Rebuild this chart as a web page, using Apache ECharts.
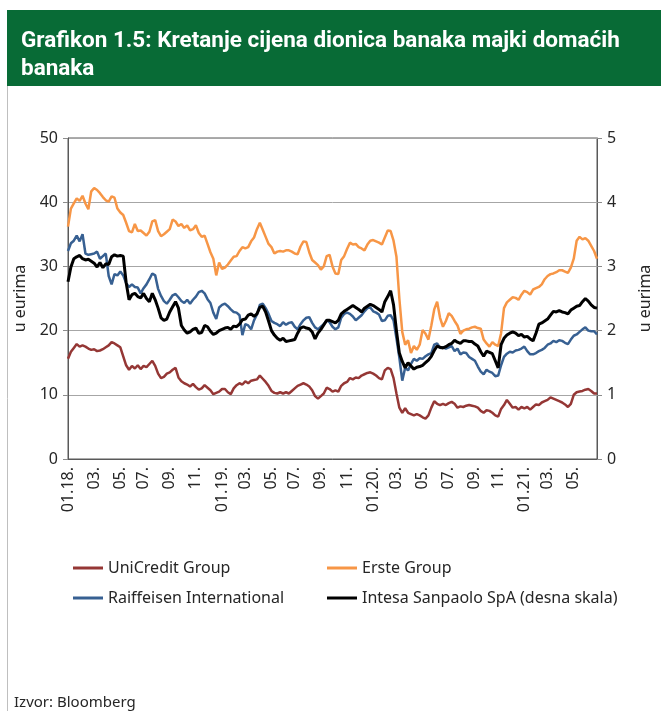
<!DOCTYPE html>
<html>
<head>
<meta charset="utf-8">
<script src="https://cdn.jsdelivr.net/npm/echarts@6/dist/echarts.min.js"></script>
<style>
html, body { margin: 0; padding: 0; background: #fff; }
#chart { width: 661px; height: 711px; }
</style>
</head>
<body>
<div id="chart"></div>
<script>
// tjedni podaci, od 01.2018. do 06.2021.
var unicredit = [15.6,16.7,17.3,17.9,17.5,17.7,17.5,17.2,17.0,17.1,16.8,16.9,17.1,17.4,17.7,18.2,18.0,17.7,17.4,16.0,14.6,13.9,14.5,14.1,14.6,14.0,14.5,14.3,14.8,15.3,14.5,13.3,12.6,12.8,13.3,13.5,13.9,14.2,12.7,12.1,11.8,11.6,11.3,11.7,11.2,10.8,11.0,
  11.5,11.1,10.7,10.1,10.3,10.5,10.9,10.9,10.4,10.1,11.0,11.5,11.8,11.6,12.1,11.8,12.2,12.3,12.4,13.0,12.5,12.0,11.4,10.6,10.3,10.2,10.4,10.2,10.4,10.2,10.6,11.0,11.4,11.6,11.8,11.6,11.3,10.7,9.8,9.4,9.8,10.2,11.1,10.9,10.5,10.7,
  10.5,11.4,11.8,12.0,12.6,12.4,12.7,12.6,13.0,13.2,13.4,13.5,13.3,13.0,12.6,12.4,13.8,14.2,14.0,12.6,10.2,8.0,7.2,7.9,7.2,7.0,6.8,7.0,6.8,6.5,6.3,6.8,8.0,9.0,8.6,8.4,8.6,8.4,8.7,8.9,8.6,8.0,8.2,8.1,8.3,8.4,
  8.3,8.2,8.0,7.5,7.2,7.6,7.5,7.2,6.8,6.6,7.8,8.4,9.2,8.6,8.0,8.1,7.7,8.1,7.9,8.1,7.7,8.1,8.5,8.4,8.8,9.0,9.2,9.6,9.4,9.2,9.0,8.8,8.5,8.1,8.6,10.0,10.4,10.5,10.6,10.8,10.9,10.6,10.2,10.2];

var erste = [36.2,39.0,39.8,40.6,40.2,41.0,39.8,38.9,41.7,42.2,41.9,41.4,40.8,40.3,40.1,40.9,40.7,39.0,38.4,38.0,36.8,35.5,35.3,36.6,35.5,35.6,35.2,34.8,35.4,37.0,37.2,35.5,34.7,35.0,35.4,35.8,37.3,37.0,36.3,36.6,36.0,36.4,35.6,35.8,36.4,35.2,34.6,
  34.8,33.5,32.2,31.2,28.6,30.6,29.6,29.8,30.3,30.9,31.5,31.6,32.4,33.0,32.8,33.0,33.9,34.5,35.8,36.8,35.7,34.6,33.5,33.0,32.0,32.3,32.4,32.3,32.5,32.5,32.3,32.0,31.9,33.1,33.9,33.8,32.2,31.0,30.6,30.2,29.5,30.0,31.6,31.8,30.0,28.9,
  28.8,31.0,31.6,32.7,33.7,33.4,33.5,33.0,32.8,32.5,33.4,34.0,34.1,33.9,33.7,33.4,34.5,35.6,35.5,34.0,31.5,25.0,19.8,17.8,18.5,16.5,17.6,17.0,17.8,20.1,19.5,18.6,20.8,23.3,24.5,22.0,20.6,21.5,22.7,22.3,21.5,20.8,19.5,20.0,20.2,20.3,
  20.5,20.6,20.4,20.3,18.6,18.0,17.5,18.2,17.8,17.6,19.6,23.5,24.4,24.8,25.2,25.1,24.8,25.6,26.2,26.0,25.6,26.4,26.6,26.8,27.2,28.0,28.5,28.8,28.9,29.1,29.4,29.4,29.2,29.0,29.8,31.2,34.0,34.6,34.2,34.4,34.0,33.2,32.4,31.2];

var raiffeisen = [32.4,33.6,34.0,34.8,33.9,35.0,32.0,31.8,31.9,32.0,32.3,31.2,31.6,32.0,28.5,27.2,28.8,28.6,29.2,28.6,27.4,26.8,27.2,26.8,26.7,25.8,26.6,27.2,28.0,28.9,28.6,26.5,25.4,24.6,24.2,24.8,25.5,25.7,25.2,24.6,24.3,24.8,24.2,24.8,25.3,26.0,26.2,
  25.8,24.9,24.3,22.8,21.8,23.6,24.0,24.2,23.8,23.3,22.9,22.8,22.4,19.3,21.0,20.8,20.2,21.6,22.5,24.0,24.2,23.5,22.6,21.5,21.2,21.0,20.7,21.3,20.9,21.2,21.3,20.6,20.2,21.0,21.6,22.0,22.1,21.2,20.5,20.2,20.6,21.0,21.6,21.3,20.6,20.2,
  20.5,22.0,22.6,22.8,22.6,22.2,21.6,22.0,22.4,23.0,23.5,23.6,23.0,22.8,22.5,21.5,21.6,22.3,22.4,21.6,18.8,15.8,12.2,14.2,13.8,14.8,15.6,15.3,15.7,15.6,16.0,16.3,16.5,17.8,18.0,17.3,17.4,17.2,17.4,17.6,16.8,17.2,16.3,16.6,16.5,15.9,
  15.6,15.3,14.4,13.6,13.2,13.9,13.6,13.4,12.9,13.0,14.6,15.9,16.4,16.7,16.6,16.9,17.0,17.2,17.5,16.8,16.3,16.3,16.5,16.8,17.0,17.3,17.8,18.0,18.4,18.2,18.5,18.4,18.1,17.9,18.6,19.2,19.4,19.8,20.2,20.5,20.0,19.9,19.9,19.4];

// desna skala
var intesa = [2.76,2.99,3.12,3.15,3.17,3.12,3.10,3.11,3.08,3.05,2.99,3.06,2.98,3.04,3.03,3.15,3.18,3.16,3.17,3.16,2.75,2.48,2.56,2.58,2.53,2.51,2.58,2.50,2.45,2.58,2.48,2.35,2.20,2.16,2.18,2.29,2.37,2.45,2.35,2.08,2.01,1.96,1.98,2.02,2.04,1.96,1.97,
  2.08,2.06,1.99,1.94,1.96,2.00,2.02,2.04,2.05,2.02,2.07,2.06,2.10,2.17,2.18,2.24,2.26,2.22,2.26,2.36,2.38,2.29,2.15,2.00,1.93,1.88,1.85,1.88,1.83,1.84,1.85,1.86,1.96,2.04,2.06,2.04,2.03,1.98,1.87,1.96,2.02,2.09,2.16,2.16,2.14,2.12,
  2.16,2.26,2.30,2.33,2.36,2.39,2.36,2.33,2.29,2.35,2.38,2.41,2.39,2.36,2.33,2.29,2.45,2.53,2.62,2.40,2.00,1.65,1.52,1.42,1.50,1.45,1.40,1.43,1.44,1.46,1.50,1.54,1.60,1.69,1.76,1.74,1.73,1.75,1.78,1.80,1.85,1.82,1.80,1.84,1.84,1.83,
  1.83,1.79,1.76,1.67,1.60,1.68,1.66,1.64,1.53,1.42,1.78,1.88,1.93,1.96,1.98,1.96,1.92,1.94,1.90,1.91,1.87,1.84,1.96,2.10,2.12,2.15,2.18,2.24,2.30,2.29,2.31,2.29,2.28,2.26,2.32,2.35,2.38,2.39,2.45,2.50,2.46,2.40,2.36,2.35];

var names = ['UniCredit Group', 'Erste Group', 'Raiffeisen International', 'Intesa Sanpaolo SpA (desna skala)'];
var colors = ['#953735', '#f79646', '#376092', '#000000'];

// datumi (tjedni)
var weeks = [];
var start = Date.UTC(2018, 0, 1);
for (var i = 0; i < unicredit.length; i++) {
    weeks.push(new Date(start + i * 7 * 86400000).toISOString().slice(0, 10));
}

function showLabel(i) {
    if (i === 0) return true;
    var m = weeks[i].slice(5, 7);
    return m !== weeks[i - 1].slice(5, 7) && (+m) % 2 === 1;
}

var myChart = echarts.init(document.getElementById('chart'));

var font = '"Noto Sans", sans-serif';
var legendText = { fontSize: 16, color: '#262626', lineHeight: 18, fontFamily: font };

var option = {
    animation: false,
    textStyle: { fontFamily: font },
    graphic: [
        { type: 'rect', shape: { x: 7, y: 10, width: 654, height: 76 }, style: { fill: '#086b36' } },
        { type: 'line', shape: { x1: 7.5, y1: 86, x2: 7.5, y2: 711 }, style: { stroke: '#bfbfbf', lineWidth: 1 } },
        {
            type: 'text', left: 21, top: 27,
            style: {
                text: 'Grafikon 1.5: Kretanje cijena dionica banaka majki domaćih\nbanaka',
                fill: '#ffffff', font: 'bold 22.5px Roboto', lineHeight: 28
            }
        },
        {
            type: 'text', left: 14, top: 695,
            style: { text: 'Izvor: Bloomberg', fill: '#262626', font: '15px "Noto Sans"' }
        }
    ],
    legend: [
        {
            data: [names[0], names[2]],
            orient: 'vertical', left: 68, top: 554,
            itemWidth: 30, itemHeight: 3, itemGap: 12, icon: 'rect',
            textStyle: legendText
        },
        {
            data: [names[1], names[3]],
            orient: 'vertical', left: 322, top: 554,
            itemWidth: 30, itemHeight: 3, itemGap: 12, icon: 'rect',
            textStyle: legendText
        }
    ],
    grid: {
        left: 68, right: 51, top: 138, bottom: 252,
        show: true, borderColor: '#595959', borderWidth: 1
    },
    xAxis: {
        type: 'category',
        data: weeks,
        boundaryGap: false,
        axisLine: { lineStyle: { color: '#595959' } },
        axisTick: { show: false },
        axisLabel: {
            rotate: 90,
            interval: function (index) { return showLabel(index); },
            margin: 8,
            fontSize: 16,
            color: '#262626',
            formatter: function (v) {
                var m = v.slice(5, 7);
                return m === '01' ? m + '.' + v.slice(2, 4) + '.' : m + '.';
            }
        }
    },
    yAxis: [
        {
            type: 'value', min: 0, max: 50, interval: 10,
            name: 'u eurima', nameLocation: 'middle', nameGap: 38, nameRotate: 90,
            nameTextStyle: { fontSize: 16, color: '#262626' },
            axisLine: { show: true, lineStyle: { color: '#595959' } },
            axisTick: { show: true, length: 5, lineStyle: { color: '#8c8c8c' } },
            axisLabel: { fontSize: 16, color: '#262626', margin: 10 },
            splitLine: { lineStyle: { color: '#a6a6a6', width: 1 } }
        },
        {
            type: 'value', min: 0, max: 5, interval: 1,
            name: 'u eurima', nameLocation: 'middle', nameGap: 40, nameRotate: 90,
            nameTextStyle: { fontSize: 16, color: '#262626' },
            axisLine: { show: true, lineStyle: { color: '#595959' } },
            axisTick: { show: true, length: 5, lineStyle: { color: '#8c8c8c' } },
            axisLabel: { fontSize: 16, color: '#262626', margin: 10 },
            splitLine: { show: false }
        }
    ],
    series: [
        { name: names[0], type: 'line', data: unicredit, showSymbol: false, color: colors[0], lineStyle: { width: 2.5 } },
        { name: names[1], type: 'line', data: erste, showSymbol: false, color: colors[1], lineStyle: { width: 2.5 } },
        { name: names[2], type: 'line', data: raiffeisen, showSymbol: false, color: colors[2], lineStyle: { width: 2.5 } },
        { name: names[3], type: 'line', data: intesa, yAxisIndex: 1, showSymbol: false, color: colors[3], lineStyle: { width: 3 } }
    ]
};

myChart.setOption(option);
</script>
</body>
</html>
